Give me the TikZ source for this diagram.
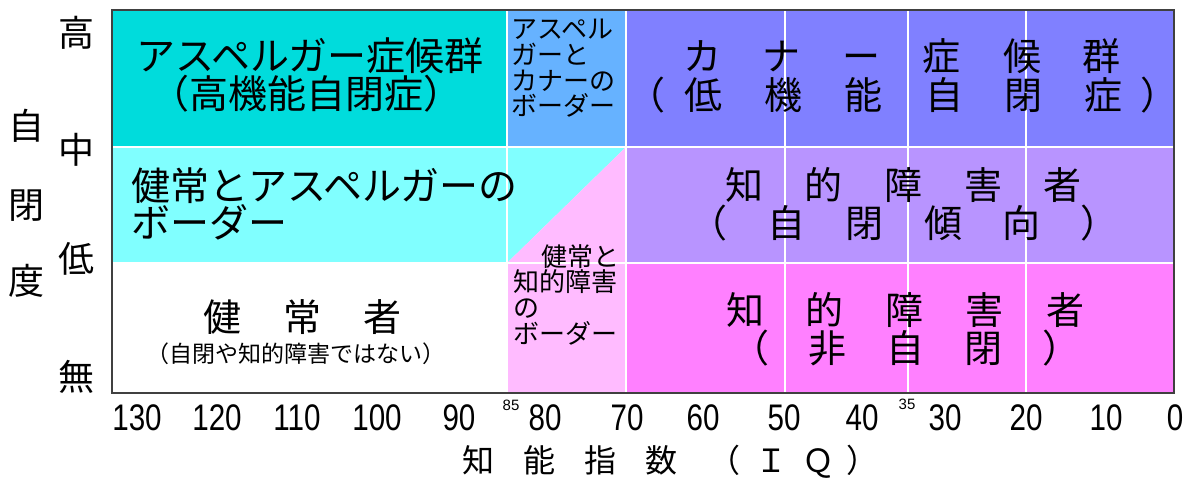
\documentclass[tikz,border=0pt]{standalone}
\usepackage{fontspec}
\setmainfont{Noto Sans CJK JP}
\newfontfamily\numfont{Liberation Sans}
\usepackage{tikz}
\usepackage{graphicx}
\definecolor{cAsp}{RGB}{0,220,220}
\definecolor{cAspKan}{RGB}{102,178,255}
\definecolor{cKan}{RGB}{128,128,255}
\definecolor{cNormAsp}{RGB}{128,255,255}
\definecolor{cIdAut}{RGB}{184,148,255}
\definecolor{cNormId}{RGB}{255,187,255}
\definecolor{cIdNon}{RGB}{255,128,255}
\newcommand{\spr}[2]{\makebox[#1][s]{#2}}

\begin{document}
\begin{tikzpicture}[x=1pt, y=-1pt,
		txt/.style={inner sep=0pt, anchor=base},
		bigtxt/.style={txt, font=\fontsize{38}{38}\selectfont},
		wbigtxt/.style={txt, font=\fontsize{39}{39}\selectfont},
		midtxt/.style={txt, font=\fontsize{26}{26}\selectfont},
		smalltxt/.style={txt, font=\fontsize{23}{23}\selectfont},
		axtxt/.style={txt, font=\fontsize{36}{36}\selectfont},
		numtxt/.style={txt, font=\numfont\fontsize{37}{37}\selectfont},
		tinytxt/.style={txt, font=\numfont\fontsize{15}{15}\selectfont},
		grid/.style={white, line width=2pt}]
		\useasboundingbox (0,0) rectangle (1187,479);
		
		\fill[cAsp] (112,10) rectangle (507,147);
		\fill[cAspKan] (507,10) rectangle (626,147);
		\fill[cKan] (626,10) rectangle (1174,147);
		\fill[cNormAsp] (112,147) rectangle (507,263);
		\fill[cNormAsp] (507,147) -- (626,147) -- (507,263) -- cycle;
		\fill[cNormId] (626,147) -- (626,263) -- (507,263) -- cycle;
		\fill[cIdAut] (626,147) rectangle (1174,263);
		\fill[cNormId] (507,263) rectangle (626,393);
		\fill[cIdNon] (626,263) rectangle (1174,393);
		
		\draw[grid] (112,147) -- (1174,147);
		\draw[grid] (112,263) -- (1174,263);
		\draw[grid] (507,10) -- (507,393);
		\draw[grid] (626,10) -- (626,393);
		\draw[grid] (785,10) -- (785,393);
		\draw[grid] (908,10) -- (908,393);
		\draw[grid] (1026,10) -- (1026,393);
		\draw[black!75, line width=2pt] (112,10) rectangle (1174,393);
		
		\node[wbigtxt] (asp1) at (310,70) {アスペルガー症候群};
		\node[wbigtxt] (asp2) at (306,108) {（高機能自閉症）};
		
		\node[midtxt, anchor=base west] (ak1) at (511,38) {アスペル};
		\node[midtxt, anchor=base west] (ak2) at (511,64) {ガーと};
		\node[midtxt, anchor=base west] (ak3) at (511,90) {カナーの};
		\node[midtxt, anchor=base west] (ak4) at (511,115) {ボーダー};
		
		\node[bigtxt] (kan1) at (902,70) {\spr{438pt}{カ\hfill ナ\hfill ー\hfill 症\hfill 候\hfill 群}};
		\node[bigtxt] (kan2) at (902.5,109) {\spr{551pt}{（\hspace{20pt}低\hfill 機\hfill 能\hfill 自\hfill 閉\hfill 症\hspace{17pt}）}};
		
		\node[wbigtxt, anchor=base west] (na1) at (131,200) {健常とアスペルガーの};
		\node[wbigtxt, anchor=base west] (na2) at (131,237) {ボーダー};
		
		\node[bigtxt] (ida1) at (903.5,199) {\spr{357pt}{知\hfill 的\hfill 障\hfill 害\hfill 者}};
		\node[bigtxt] (ida2) at (904,237) {\spr{430pt}{（\hfill 自\hfill 閉\hfill 傾\hfill 向\hfill ）}};
		
		\node[bigtxt] (nor1) at (302.5,331) {\spr{199pt}{健\hfill 常\hfill 者}};
		\node[smalltxt] (nor2) at (296,362) {（自閉や知的障害ではない）};
		
		\node[midtxt, anchor=base east] (ni1) at (620,266) {健常と};
		\node[midtxt, anchor=base west] (ni2) at (513,291) {知的障害};
		\node[midtxt, anchor=base west] (ni3) at (513,317) {の};
		\node[midtxt, anchor=base west] (ni4) at (513,343) {ボーダー};
		
		\node[bigtxt] (idn1) at (905,324) {\spr{358pt}{知\hfill 的\hfill 障\hfill 害\hfill 者}};
		\node[bigtxt] (idn2) at (906,362) {\spr{350pt}{（\hfill 非\hfill 自\hfill 閉\hfill ）}};
		
		\node[axtxt] (lvh) at (76,46) {高};
		\node[axtxt] (lvm) at (76,163) {中};
		\node[axtxt] (lvl) at (76,272) {低};
		\node[axtxt] (lvn) at (76,390) {無};
		\node[axtxt] (ax1) at (27,139) {自};
		\node[axtxt] (ax2) at (27,218) {閉};
		\node[axtxt] (ax3) at (27,294) {度};
		
		\node[numtxt] (n130) at (137,430) {\scalebox{0.8}[1]{130}};
		\node[numtxt] (n120) at (217,430) {\scalebox{0.8}[1]{120}};
		\node[numtxt] (n110) at (297,430) {\scalebox{0.8}[1]{110}};
		\node[numtxt] (n100) at (377,430) {\scalebox{0.8}[1]{100}};
		\node[numtxt] (n90) at (459,430) {\scalebox{0.8}[1]{90}};
		\node[tinytxt] (n85) at (511,410) {85};
		\node[numtxt] (n80) at (545,430) {\scalebox{0.8}[1]{80}};
		\node[numtxt] (n70) at (627,430) {\scalebox{0.8}[1]{70}};
		\node[numtxt] (n60) at (703,430) {\scalebox{0.8}[1]{60}};
		\node[numtxt] (n50) at (784,430) {\scalebox{0.8}[1]{50}};
		\node[numtxt] (n40) at (862,430) {\scalebox{0.8}[1]{40}};
		\node[tinytxt] (n35) at (907,409) {35};
		\node[numtxt] (n30) at (945,430) {\scalebox{0.8}[1]{30}};
		\node[numtxt] (n20) at (1026,430) {\scalebox{0.8}[1]{20}};
		\node[numtxt] (n10) at (1106,430) {\scalebox{0.8}[1]{10}};
		\node[numtxt] (n0) at (1175,430) {\scalebox{0.8}[1]{0}};
		
		\node[txt, anchor=base west, font=\fontsize{32}{32}\selectfont] (iq) at (462,472) {知\hspace{29pt}能\hspace{29pt}指\hspace{29pt}数\hspace{31pt}（\hspace{15pt}Ｉ\hspace{15pt}Ｑ\hspace{12pt}）};
		
	\end{tikzpicture}
\end{document}
